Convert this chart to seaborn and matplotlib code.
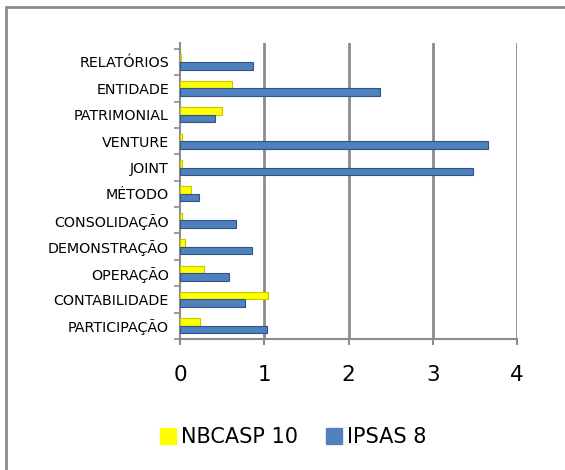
import matplotlib
matplotlib.use("Agg")
import matplotlib.pyplot as plt
import seaborn as sns
import pandas as pd
from matplotlib.ticker import FixedLocator
from matplotlib.lines import Line2D

categories = ["RELATÓRIOS", "ENTIDADE", "PATRIMONIAL", "VENTURE", "JOINT", "MÉTODO",
              "CONSOLIDAÇÃO", "DEMONSTRAÇÃO", "OPERAÇÃO", "CONTABILIDADE", "PARTICIPAÇÃO"]
nbcasp = [0.01, 0.62, 0.50, 0.02, 0.02, 0.13, 0.02, 0.06, 0.29, 1.05, 0.24]
ipsas = [0.87, 2.37, 0.42, 3.65, 3.48, 0.22, 0.66, 0.85, 0.58, 0.77, 1.03]
series_names = ["NBCASP 10", "IPSAS 8"]
xticks = [0, 1, 2, 3, 4]

df = pd.DataFrame({
    "termo": categories * 2,
    "valor": nbcasp + ipsas,
    "serie": [series_names[0]] * len(categories) + [series_names[1]] * len(categories),
})

sns.set_theme(style="white")
plt.rcParams["font.family"] = ["DejaVu Sans"]
plt.rcParams["text.color"] = "black"
plt.rcParams["xtick.labelcolor"] = "black"
plt.rcParams["ytick.labelcolor"] = "black"

fig = plt.figure(figsize=(5.65, 4.7), dpi=100)
ax = fig.add_axes([180 / 565, 1 - 339 / 470, 337 / 565, 296 / 470])

colors = {"NBCASP 10": "#FFFF00", "IPSAS 8": "#4F81BD"}
edges = {"NBCASP 10": "#C8C800", "IPSAS 8": "#2F5588"}
sns.barplot(data=df, x="valor", y="termo", hue="serie", orient="h",
            order=categories, hue_order=series_names, palette=colors,
            saturation=1, width=0.57, ax=ax, legend=False, zorder=3)
for cont, name in zip(ax.containers, series_names):
    for p in cont:
        p.set_edgecolor(edges[name])
        p.set_linewidth(0.8)

ax.set_xlim(0, 4)
ax.set_ylim(10.5, -0.72)
ax.set_xticks(xticks)
ax.set_xticklabels([str(t) for t in xticks], fontsize=15.5, color="black")
ax.set_yticks(range(len(categories)))
ax.set_yticklabels(categories, fontsize=10.3, color="black")
ax.yaxis.set_minor_locator(FixedLocator([i - 0.5 for i in range(len(categories) + 1)]))
ax.tick_params(axis="y", which="major", length=0, pad=8)
ax.tick_params(axis="y", which="minor", left=True, length=4, width=1.2, color="#8C8C8C")
ax.tick_params(axis="x", which="major", bottom=True, length=4, width=1.5, color="#8C8C8C", pad=15)
ax.set_xlabel("")
ax.set_ylabel("")

for xv in xticks[1:]:
    ax.axvline(xv, color="#8C8C8C", lw=2, zorder=1)

for s in ["top", "right"]:
    ax.spines[s].set_visible(False)
for s in ["left", "bottom"]:
    ax.spines[s].set_color("#8C8C8C")
    ax.spines[s].set_linewidth(1.5)

handles = [Line2D([0], [0], marker="s", linestyle="", markersize=11,
                  markerfacecolor=colors[n], markeredgecolor=colors[n]) for n in series_names]
fig.legend(handles, series_names, loc="center", bbox_to_anchor=(293 / 565, 1 - 437 / 470),
           ncol=2, frameon=False, fontsize=15, handlelength=0.8, handletextpad=0.25,
           columnspacing=1.3, labelcolor="black")

# outer frame (left and top edges visible)
fig.add_artist(Line2D([6 / 565, 6 / 565], [0, 1 - 7 / 470], color="#8C8C8C", lw=2,
                      transform=fig.transFigure))
fig.add_artist(Line2D([6 / 565, 1], [1 - 7 / 470, 1 - 7 / 470], color="#8C8C8C", lw=2,
                      transform=fig.transFigure))

fig.savefig("out.png", dpi=100)
